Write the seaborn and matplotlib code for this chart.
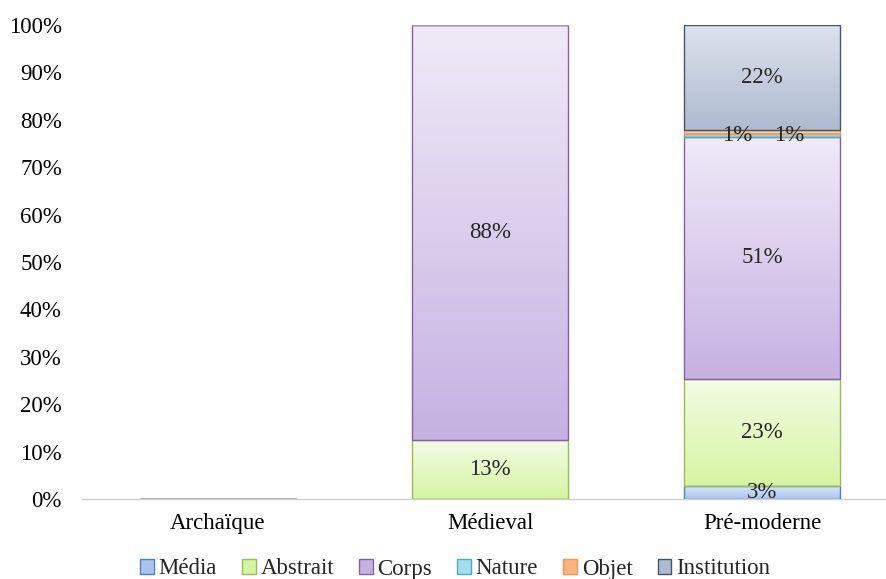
import numpy as np
import pandas as pd
import matplotlib.pyplot as plt
import seaborn as sns
from matplotlib.colors import LinearSegmentedColormap
from matplotlib.patches import Patch

# --- data (share of each theme per period, in %) ---
periods = ["Archaïque", "Médieval", "Pré-moderne"]
themes = ["Média", "Abstrait", "Corps", "Nature", "Objet", "Institution"]
media = [0, 0, 2.7]
abstrait = [0, 12.5, 22.6]
corps = [0, 87.5, 51.1]
nature = [0, 0, 0.7]
objet = [0, 0, 0.8]
institution = [0, 0, 22.1]
series = [media, abstrait, corps, nature, objet, institution]

# edge, bottom of gradient, top of gradient
colors = {
    "Média": ("#4f81bd", "#a9c4f2", "#dbe6fa"),
    "Abstrait": ("#9bbb59", "#d6f5a2", "#f3fbe6"),
    "Corps": ("#8064a2", "#c6b1e2", "#f0eaf8"),
    "Nature": ("#4bacc6", "#9fdff0", "#d6f3fa"),
    "Objet": ("#f79646", "#f9b282", "#fde0c8"),
    "Institution": ("#44546a", "#aebad0", "#dde3ec"),
}
# horizontal nudge of the small labels on the thin segments
label_shift = {"Nature": -0.092, "Objet": 0.10}

rows = []
for theme, vals in zip(themes, series):
    for p, v in zip(periods, vals):
        rows.append({"period": p, "theme": theme, "share": v})
df = pd.DataFrame(rows)

sns.set_theme(style="white")
plt.rcParams["font.family"] = ["Liberation Serif", "DejaVu Serif"]
FS = 16.5

fig, ax = plt.subplots(figsize=(8.86, 5.79), dpi=100)
ax.set_position([82 / 886, 80 / 579, 816 / 886, 474 / 579])

sns.barplot(data=df, x="period", y="share", hue="theme", order=periods,
            hue_order=themes, dodge=False, width=0.57, errorbar=None,
            legend=False, ax=ax)

# stack the overlapping bars and paint them with vertical gradients
bottoms = np.zeros(len(periods))
for i, theme in enumerate(themes):
    edge, c_bot, c_top = colors[theme]
    cmap = LinearSegmentedColormap.from_list(theme, [c_bot, c_top])
    for j, bar in enumerate(ax.containers[i]):
        h = bar.get_height()
        y0 = bottoms[j]
        bar.set_y(y0)
        bar.set_facecolor("none")
        bar.set_edgecolor(edge if h > 0 else "#a0a0a0")
        bar.set_linewidth(1.0)
        bar.set_zorder(3)
        if h > 0:
            x0 = bar.get_x()
            w = bar.get_width()
            grad = np.linspace(0, 1, 128).reshape(-1, 1)
            ax.imshow(grad, extent=(x0, x0 + w, y0, y0 + h), origin="lower",
                      aspect="auto", cmap=cmap, zorder=2)
            lab = f"{int(series[i][j] + 0.5)}%"
            if theme in label_shift:
                ax.text(j + label_shift[theme], 76.7, lab, ha="center",
                        va="center", fontsize=FS, zorder=5)
            else:
                ax.text(j, y0 + h / 2, lab, ha="center", va="center",
                        fontsize=FS, zorder=5)
        bottoms[j] += h

ax.set_xlim(-0.5, 2.5)
ax.set_ylim(0, 100)
ax.set_yticks(np.arange(0, 101, 10))
ax.set_yticklabels([f"{t}%" for t in range(0, 101, 10)])
ax.set_xlabel("")
ax.set_ylabel("")
ax.tick_params(axis="y", length=0, pad=14.5, labelsize=FS, labelcolor="black")
ax.tick_params(axis="x", length=0, pad=10, labelsize=FS, labelcolor="black")
for s in ["left", "right", "top"]:
    ax.spines[s].set_visible(False)
ax.spines["bottom"].set_color("#d0d0d0")
ax.spines["bottom"].set_linewidth(1.0)
ax.grid(False)

handles = [Patch(facecolor=colors[t][1], edgecolor=colors[t][0], label=t)
           for t in themes]
fig.legend(handles=handles, loc="center", bbox_to_anchor=(455 / 886, 1 - 569 / 579),
           ncol=6, frameon=False, fontsize=FS, handlelength=0.6,
           handleheight=0.6, handletextpad=0.2, columnspacing=1.1,
           borderaxespad=0)

fig.savefig("out.png", dpi=100)
